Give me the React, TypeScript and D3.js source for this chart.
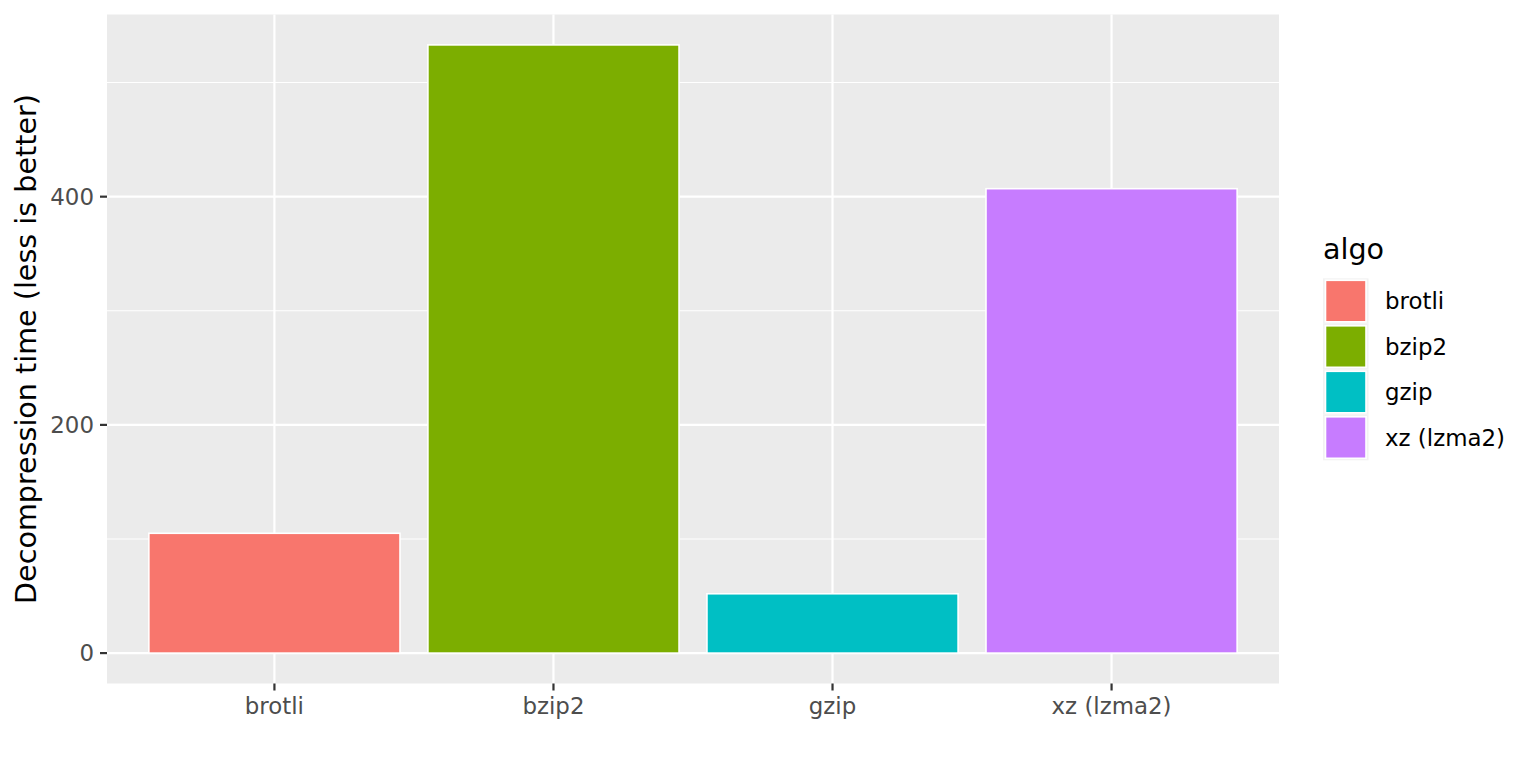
import * as d3 from 'd3'

const algos = ['brotli', 'bzip2', 'gzip', 'xz (lzma2)']
const decompTime = [105, 533, 52, 407]
const fillColors = ['#F8766D', '#7CAE00', '#00BFC4', '#C77CFF']
const majorTicks = [0, 200, 400]
const minorTicks = [100, 300, 500]

const W = 1536
const H = 768
const panel = { left: 107, right: 1279, top: 14.5, bottom: 683.5 }
const FONT = '"DejaVu Sans", Verdana, sans-serif'

export default function App() {
  const maxV = d3.max(decompTime) ?? 0
  const pad = maxV * 0.05

  const x = d3.scalePoint<string>()
    .domain(algos)
    .range([panel.left, panel.right])
    .padding(0.6)

  const y = d3.scaleLinear()
    .domain([-pad, maxV + pad])
    .range([panel.bottom, panel.top])

  const barW = x.step() * 0.9
  const keySize = 45.5
  const legendTop = 278.3

  return (
    <svg width={W} height={H} style={{ position: 'absolute', left: 0, top: 0, background: '#fff' }} fontFamily={FONT}>
      {/* panel */}
      <rect x={panel.left} y={panel.top} width={panel.right - panel.left} height={panel.bottom - panel.top} fill="#EBEBEB" />
      {minorTicks.map(t => (
        <line key={'mn' + t} x1={panel.left} x2={panel.right} y1={y(t)} y2={y(t)} stroke="#fff" strokeWidth={1.1} />
      ))}
      {majorTicks.map(t => (
        <line key={'mj' + t} x1={panel.left} x2={panel.right} y1={y(t)} y2={y(t)} stroke="#fff" strokeWidth={2.2} />
      ))}
      {algos.map(a => (
        <line key={'vx' + a} x1={x(a)} x2={x(a)} y1={panel.top} y2={panel.bottom} stroke="#fff" strokeWidth={2.2} />
      ))}

      {/* bars */}
      {algos.map((a, i) => (
        <rect
          key={'bar' + a}
          x={(x(a) ?? 0) - barW / 2}
          y={y(decompTime[i])}
          width={barW}
          height={y(0) - y(decompTime[i])}
          fill={fillColors[i]}
          stroke="#fff"
          strokeWidth={1.6}
        />
      ))}

      {/* y axis */}
      {majorTicks.map(t => (
        <g key={'yt' + t}>
          <line x1={panel.left - 7} x2={panel.left} y1={y(t)} y2={y(t)} stroke="#333" strokeWidth={2.2} />
          <text x={panel.left - 13} y={y(t)} dy="0.36em" textAnchor="end" fontSize={22.9} fill="#4D4D4D">{t}</text>
        </g>
      ))}

      {/* x axis */}
      {algos.map(a => (
        <g key={'xt' + a}>
          <line x1={x(a)} x2={x(a)} y1={panel.bottom} y2={panel.bottom + 7} stroke="#333" strokeWidth={2.2} />
          <text x={x(a)} y={714} textAnchor="middle" fontSize={22.9} fill="#4D4D4D">{a}</text>
        </g>
      ))}

      <text
        transform={`translate(36,${(panel.top + panel.bottom) / 2}) rotate(-90)`}
        textAnchor="middle"
        fontSize={28.6}
        fill="#000"
      >
        Decompression time (less is better)
      </text>

      {/* legend */}
      <text x={1323} y={259} fontSize={28.6} fill="#000">algo</text>
      {algos.map((a, i) => {
        const ky = legendTop + i * keySize
        return (
          <g key={'lg' + a}>
            <rect x={1323} y={ky} width={keySize} height={keySize} fill="#F2F2F2" />
            <rect x={1325.5} y={ky + 2} width={keySize - 5} height={keySize - 4} fill={fillColors[i]} stroke="#fff" strokeWidth={1.6} />
            <text x={1385} y={ky + keySize / 2} dy="0.36em" fontSize={22.9} fill="#000">{a}</text>
          </g>
        )
      })}
    </svg>
  )
}
